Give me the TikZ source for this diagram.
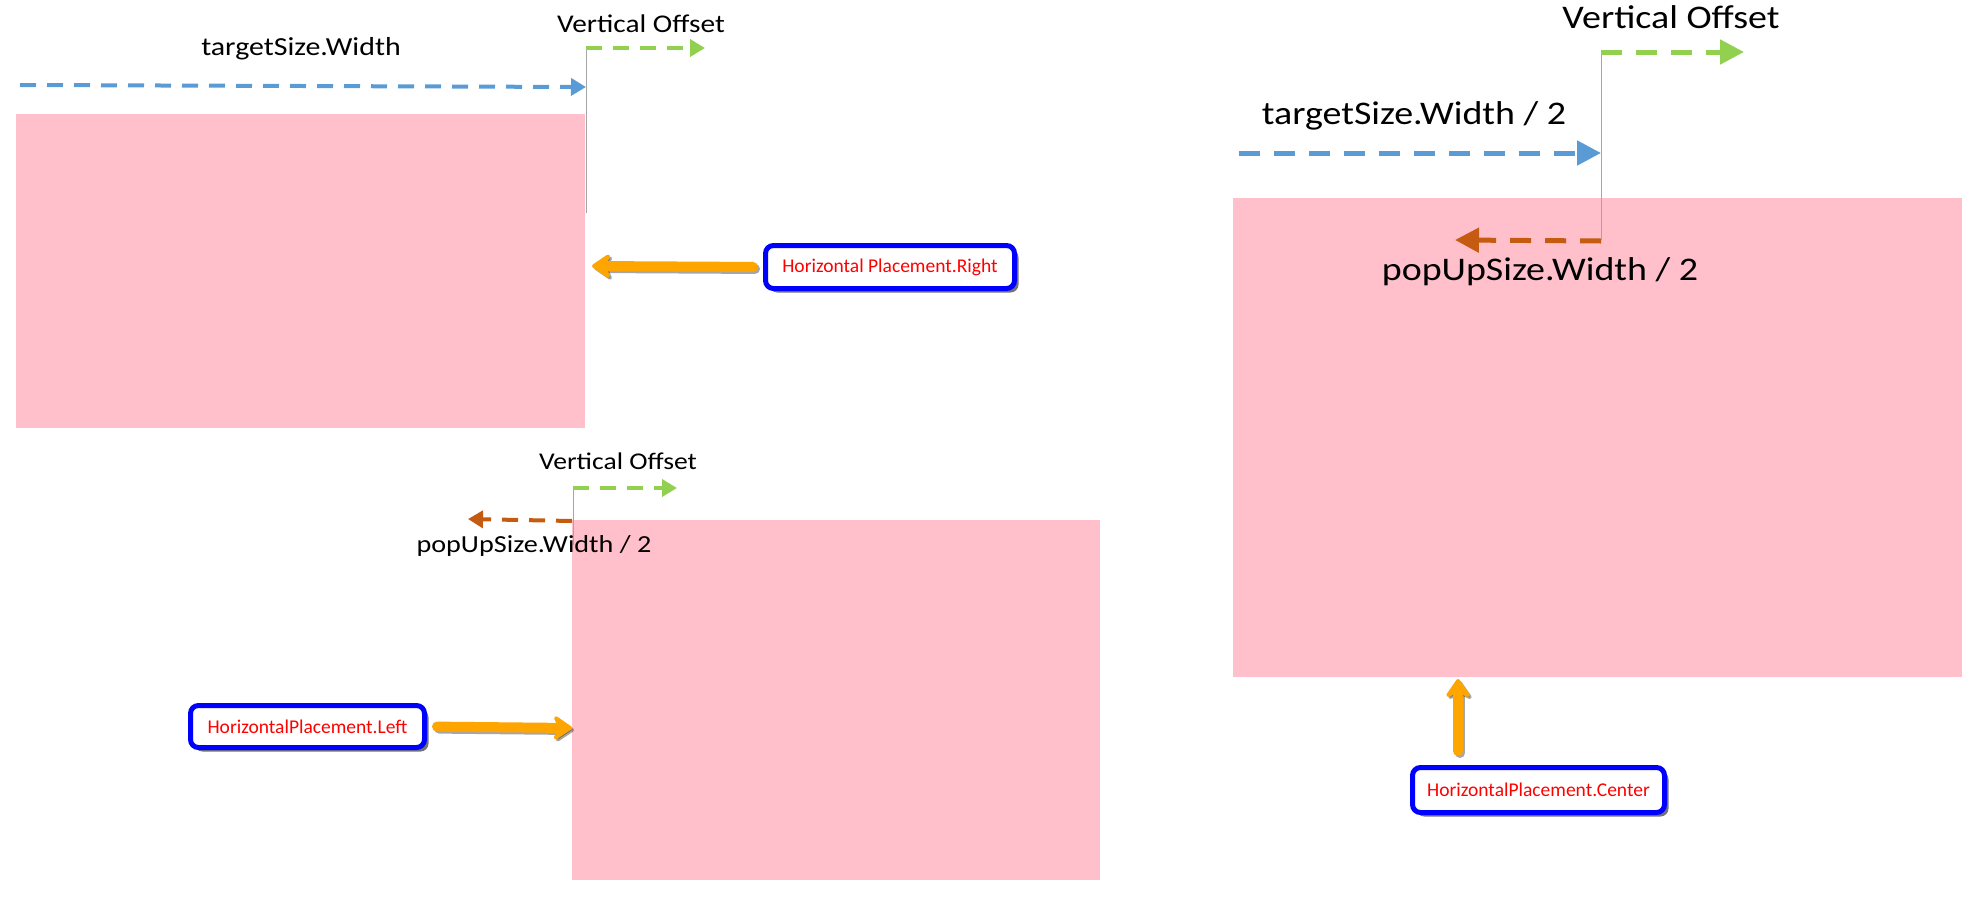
\documentclass[tikz,border=0pt]{standalone}
\usepackage{fontspec}
\setmainfont{Carlito}
\newfontfamily\labelfont[FakeStretch=1.15]{Carlito}
\usetikzlibrary{arrows.meta,shadows}

\definecolor{popupPink}{HTML}{FFC0CB}
\definecolor{widthBlue}{HTML}{5B9BD5}
\definecolor{offsetGreen}{HTML}{92D050}
\definecolor{halfOrange}{HTML}{C55A11}
\definecolor{placeOrange}{HTML}{FFA500}

\tikzset{
  popup/.style={fill=popupPink},
  guide/.style={draw=black!35, line width=0.8pt},
  dimarrow/.style={line width=4pt, dash pattern=on 16pt off 11pt,
    -{Triangle[length=15pt,width=17pt]}},
  bigdimarrow/.style={line width=5pt, dash pattern=on 21pt off 14pt,
    -{Triangle[length=24pt,width=24pt]}},
  dimlabel/.style={anchor=base, inner sep=0pt, font=\labelfont\fontsize{#1}{#1}\selectfont},
  placebox/.style={draw=blue, line width=5pt, rounded corners=8pt, fill=white,
    text=red, inner sep=0pt, font=\fontsize{19.5}{22}\selectfont,
    drop shadow={shadow xshift=4pt, shadow yshift=-4pt, opacity=.55, fill=black}},
  placearrow/.style={draw=placeOrange, line width=10pt, line cap=round,
    -{Stealth[length=22pt,width=30pt,inset=7pt,round]},
    preaction={draw=black, opacity=.35, line width=10pt, line cap=round,
      -{Stealth[length=22pt,width=30pt,inset=7pt,round]},
      transform canvas={shift={(2pt,-2pt)}}}}
}

\begin{document}
\begin{tikzpicture}[x=1pt, y=-1pt]
  \useasboundingbox (0,0) rectangle (1970,908);

  % popups
  \fill[popup] (16,114) rectangle (585,428);
  \fill[popup] (572,520) rectangle (1100,880);
  \fill[popup] (1233,198) rectangle (1962,677);

  % right placement
  \coordinate (rightEdge) at (586,48);
  \coordinate (rightEdgeEnd) at (586,213);
  \coordinate (rightWidthStart) at (20,85);
  \coordinate (rightWidthEnd) at (586,87);
  \coordinate (rightOffsetEnd) at (705,48);
  \draw[guide] (rightEdge) -- (rightEdgeEnd);
  \draw[dimarrow, draw=widthBlue] (rightWidthStart) -- (rightWidthEnd);
  \draw[dimarrow, draw=offsetGreen] (rightEdge) -- (rightOffsetEnd);
  \node[dimlabel=25.5] (rightOffset) at (641,32) {Vertical Offset};
  \node[dimlabel=26] (rightWidth) at (301,55) {targetSize.Width};

  \node[placebox, minimum width=249pt, minimum height=43pt] (rightBox) at (890,267) {Horizontal Placement.Right};
  \coordinate (rightTip) at (592,266);
  \draw[placearrow, shorten <=10pt] (rightBox.west) -- (rightTip);

  % left placement
  \coordinate (leftEdge) at (573,488);
  \coordinate (leftEdgeEnd) at (573,545);
  \coordinate (leftOffsetEnd) at (677,488);
  \coordinate (leftHalfStart) at (572,521);
  \coordinate (leftHalfEnd) at (468,519);
  \draw[guide] (leftEdge) -- (leftEdgeEnd);
  \draw[dimarrow, draw=offsetGreen] (leftEdge) -- (leftOffsetEnd);
  \draw[dimarrow, draw=halfOrange] (leftHalfStart) -- (leftHalfEnd);
  \node[dimlabel=24] (leftOffset) at (618,469) {Vertical Offset};
  \node[dimlabel=24.5] (leftHalf) at (534,552) {popUpSize.Width / 2};

  \node[placebox, minimum width=234pt, minimum height=42pt] (leftBox) at (307.5,726.5) {HorizontalPlacement.Left};
  \coordinate (leftTip) at (572,728);
  \draw[placearrow, shorten <=10pt] (leftBox.east) -- (leftTip);

  % center placement
  \coordinate (centerEdge) at (1601,52);
  \coordinate (centerEdgeEnd) at (1601,240);
  \coordinate (centerOffsetEnd) at (1744,52);
  \coordinate (centerWidthStart) at (1239,153);
  \coordinate (centerWidthEnd) at (1601,153);
  \coordinate (centerHalfStart) at (1601,241);
  \coordinate (centerHalfEnd) at (1455,240);
  \draw[guide] (centerEdge) -- (centerEdgeEnd);
  \draw[bigdimarrow, draw=offsetGreen] (centerEdge) -- (centerOffsetEnd);
  \draw[bigdimarrow, draw=widthBlue] (centerWidthStart) -- (centerWidthEnd);
  \draw[bigdimarrow, draw=halfOrange] (centerHalfStart) -- (centerHalfEnd);
  \node[dimlabel=33] (centerOffset) at (1671,28) {Vertical Offset};
  \node[dimlabel=33] (centerWidth) at (1414,124) {targetSize.Width / 2};
  \node[dimlabel=33] (centerHalf) at (1540,280) {popUpSize.Width / 2};

  \node[placebox, minimum width=252pt, minimum height=45pt] (centerBox) at (1538.5,790) {HorizontalPlacement.Center};
  \coordinate (centerTip) at (1458,679);
  \draw[placearrow, shorten <=14pt] (centerTip |- centerBox.north) -- (centerTip);
\end{tikzpicture}
\end{document}
